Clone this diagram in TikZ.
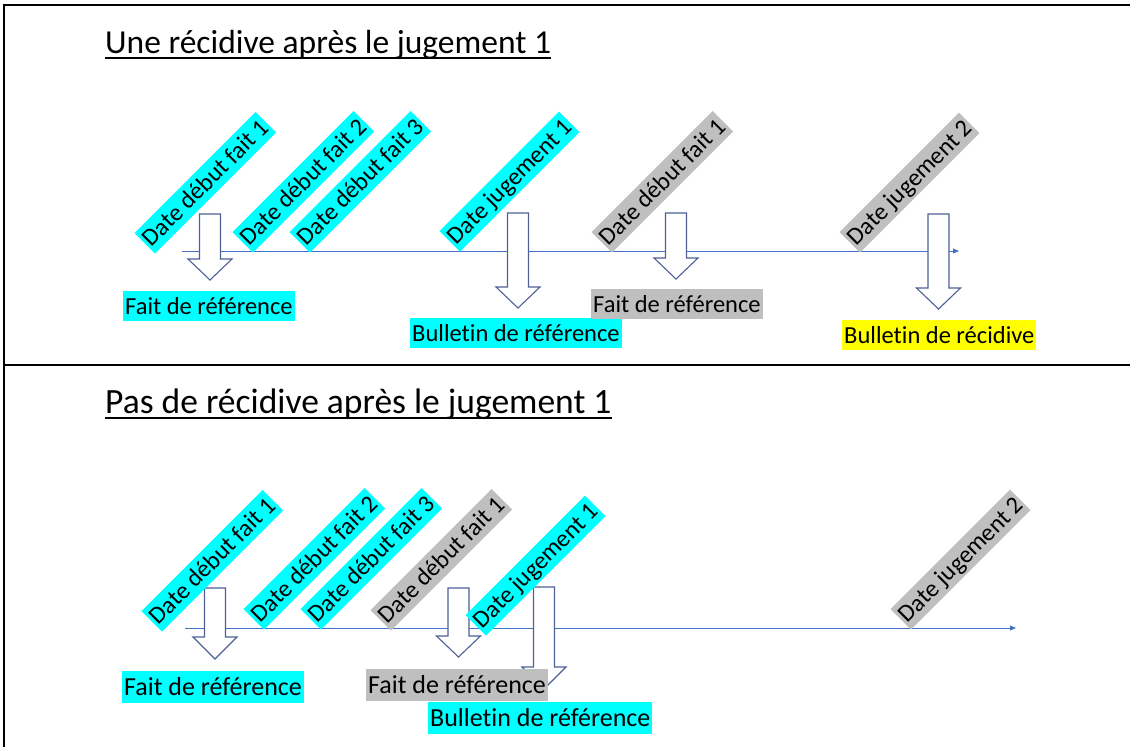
\documentclass[tikz,border=0pt]{standalone}
\usepackage{fontspec}
\setmainfont{Carlito}[Ligatures=NoCommon]
\usetikzlibrary{arrows.meta}
\definecolor{lblcyan}{RGB}{0,255,255}
\definecolor{lblgray}{RGB}{191,191,191}
\definecolor{lblyellow}{RGB}{255,255,0}
\definecolor{tline}{RGB}{68,114,196}
\definecolor{barrow}{RGB}{78,96,150}
\newcommand\blkarrow[4]{%
  \draw[blk] (#1-10.5,#2) -- (#1+10.5,#2) -- (#1+10.5,#3) -- (#1+22,#3) -- (#1,#4)
    -- (#1-22,#3) -- (#1-10.5,#3) -- cycle;}
\begin{document}
\begin{tikzpicture}[x=1pt,y=-1pt,
  rlab/.style={rotate=45, anchor=south west, inner xsep=2pt, inner ysep=0.5pt,
    text height=22pt, text depth=6pt, font=\fontsize{24.5}{28}\selectfont},
  hlab/.style={anchor=north west, inner xsep=2pt, inner ysep=1pt,
    text height=22pt, text depth=6pt, font=\fontsize{24.5}{28}\selectfont},
  hlabB/.style={hlab, text height=23.5pt, text depth=6.5pt, font=\fontsize{26}{30}\selectfont},
  cy/.style={fill=lblcyan}, gr/.style={fill=lblgray}, ye/.style={fill=lblyellow},
  tl/.style={draw=tline, line width=0.9pt, -{Triangle[length=6pt,width=5pt]}},
  blk/.style={draw=barrow, fill=white, line width=1.1pt, line join=miter},
  border/.style={line width=1.8pt},
  ttl/.style={anchor=base west, inner sep=0pt},
  uline/.style={line width=1.8pt}
]
\useasboundingbox (0,0) rectangle (1130,747);
% frame
\draw[border] (4,747) -- (4,5) -- (1130,5);
\draw[border] (4,365) -- (1130,365);

% ---------- top panel ----------
\node[ttl, font=\fontsize{33.5}{38}\selectfont] (t1) at (105,53) {Une récidive après le jugement 1};
\draw[uline] ([yshift=-5pt]t1.base west) -- ([yshift=-5pt]t1.base east);

\coordinate (s1) at (182,251);
\coordinate (e1) at (959,251);
\draw[tl] (s1) -- (e1);

\blkarrow{210}{214}{259}{280}
\blkarrow{518}{213}{287}{308}
\blkarrow{676}{213}{258}{279}
\blkarrow{938.5}{214}{288}{309}

\node[rlab, cy] (a1) at (155,254) {Date début fait 1};
\node[rlab, cy] (a2) at (253,253) {Date début fait 2};
\node[rlab, cy] (a3) at (310,253) {Date début fait 3};
\node[rlab, cy] (a4) at (460,252) {Date jugement 1};
\node[rlab, gr] (a5) at (612,253) {Date début fait 1};
\node[rlab, gr] (a6) at (860,253) {Date jugement 2};

\node[hlab, cy] (f1) at (123,291) {Fait de référence};
\node[hlab, cy] (b1) at (410,318) {Bulletin de référence};
\node[hlab, gr] (f2) at (591,289) {Fait de référence};
\node[hlab, ye] (r1) at (842,320) {Bulletin de récidive};

% ---------- bottom panel ----------
\node[ttl, font=\fontsize{35.5}{40}\selectfont] (t2) at (105,413) {Pas de récidive après le jugement 1};
\draw[uline] ([yshift=-5pt]t2.base west) -- ([yshift=-5pt]t2.base east);

\coordinate (s2) at (185,628);
\coordinate (e2) at (1016,628);
\draw[tl] (s2) -- (e2);

\blkarrow{215}{588}{637}{659}
\blkarrow{458.5}{588}{636}{657}
\blkarrow{544}{587}{667}{689}

\node[rlab, cy] (c1) at (162,632) {Date début fait 1};
\node[rlab, cy] (c2) at (264,630) {Date début fait 2};
\node[rlab, cy] (c3) at (321,630) {Date début fait 3};
\node[rlab, gr] (c4) at (391,631) {Date début fait 1};
\node[rlab, cy] (c5) at (486,636) {Date jugement 1};
\node[rlab, gr] (c6) at (911,630) {Date jugement 2};

\node[hlabB, cy] (g1) at (122,671) {Fait de référence};
\node[hlabB, gr] (g2) at (366,669) {Fait de référence};
\node[hlabB, cy] (g3) at (428,702) {Bulletin de référence};
\end{tikzpicture}
\end{document}
